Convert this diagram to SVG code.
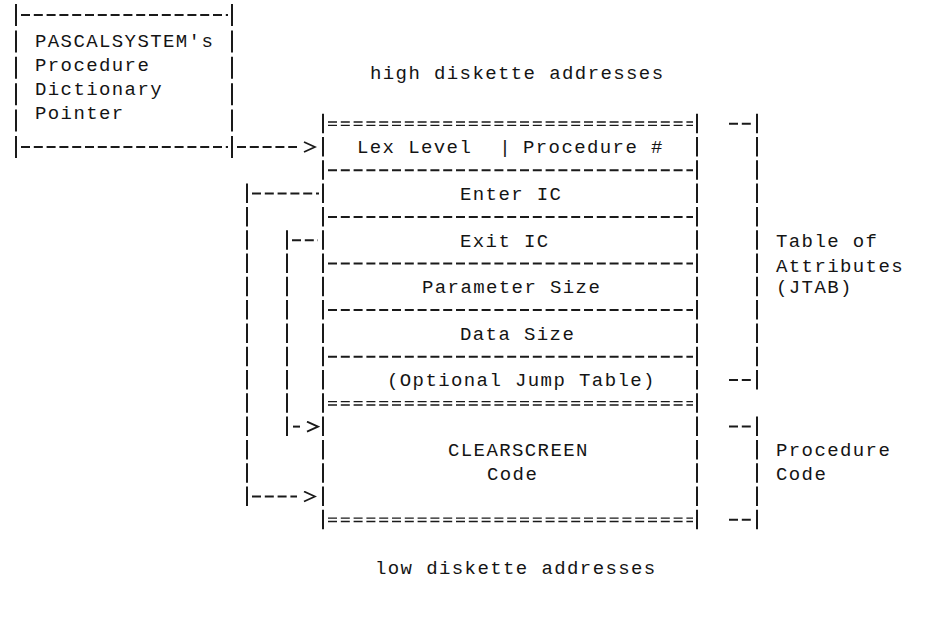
<svg xmlns="http://www.w3.org/2000/svg" width="928" height="617" viewBox="0 0 928 617">
  <defs>
    <marker id="chev" markerUnits="userSpaceOnUse" viewBox="0 0 20 12" markerWidth="20" markerHeight="12" refX="0" refY="6" orient="auto">
      <path d="M7,1 L18,6 L7,11" fill="none" stroke="#1a1a1a" stroke-width="1.8"/>
    </marker>
    <style>
      .t { font-family: "Liberation Mono", "DejaVu Sans Mono", monospace; font-size: 19px; letter-spacing: 1.4px; fill: #141414; }
      .bar { stroke: #1a1a1a; stroke-width: 2; fill: none; stroke-dasharray: 19.5 3.8; }
      .lbar { stroke: #1a1a1a; stroke-width: 2; fill: none; stroke-dasharray: 22 4.4; }
      .dash { stroke: #1a1a1a; stroke-width: 2; fill: none; stroke-dasharray: 9 3.8; }
      .dbl { stroke: #1a1a1a; stroke-width: 1.4; fill: none; stroke-dasharray: 9 3.8; }
      .arrow { marker-end: url(#chev); }
    </style>
  </defs>
  <rect width="928" height="617" fill="#ffffff"/>

  <g id="pointer-box">
    <line class="lbar" x1="16" y1="4" x2="16" y2="158"/>
    <line class="lbar" x1="232" y1="4" x2="232" y2="158"/>
    <line class="dash" x1="21" y1="15" x2="228" y2="15"/>
    <line class="dash" x1="21" y1="147" x2="228" y2="147"/>
    <text class="t" x="35" y="47.3">PASCALSYSTEM's</text>
    <text class="t" x="35" y="71.3">Procedure</text>
    <text class="t" x="35" y="95.3">Dictionary</text>
    <text class="t" x="35" y="119.3">Pointer</text>
  </g>

  <g id="high-label">
    <text class="t" x="370" y="79.3">high diskette addresses</text>
  </g>

  <g id="procedure-block">
    <line class="bar" x1="323" y1="113.7" x2="323" y2="529.8"/>
    <line class="bar" x1="697" y1="113.7" x2="697" y2="529.8"/>
    <line class="dbl" x1="328" y1="122" x2="693" y2="122"/>
    <line class="dbl" x1="328" y1="125.4" x2="693" y2="125.4"/>
    <line class="dash" x1="328" y1="170.3" x2="693" y2="170.3"/>
    <line class="dash" x1="328" y1="216.9" x2="693" y2="216.9"/>
    <line class="dash" x1="328" y1="263.5" x2="693" y2="263.5"/>
    <line class="dash" x1="328" y1="310.1" x2="693" y2="310.1"/>
    <line class="dash" x1="328" y1="356.7" x2="693" y2="356.7"/>
    <line class="dbl" x1="328" y1="401.6" x2="693" y2="401.6"/>
    <line class="dbl" x1="328" y1="405" x2="693" y2="405"/>
    <line class="dbl" x1="328" y1="518.1" x2="693" y2="518.1"/>
    <line class="dbl" x1="328" y1="521.5" x2="693" y2="521.5"/>
    <g id="row-lex">
      <text class="t" x="357" y="153.3">Lex Level</text>
      <text class="t" x="499.3" y="153.3">|</text>
      <text class="t" x="523" y="153.3">Procedure #</text>
    </g>
    <g id="row-enter"><text class="t" x="460" y="199.9">Enter IC</text></g>
    <g id="row-exit"><text class="t" x="460" y="246.5">Exit IC</text></g>
    <g id="row-param"><text class="t" x="422" y="293.1">Parameter Size</text></g>
    <g id="row-data"><text class="t" x="460" y="339.7">Data Size</text></g>
    <g id="row-jump"><text class="t" x="387" y="386.3">(Optional Jump Table)</text></g>
    <g id="code-block">
      <text class="t" x="448" y="456.2">CLEARSCREEN</text>
      <text class="t" x="487" y="479.5">Code</text>
    </g>
  </g>

  <g id="jtab-bracket">
    <line class="bar" x1="757" y1="113.7" x2="757" y2="390"/>
    <line class="dash" x1="729" y1="123.7" x2="752" y2="123.7"/>
    <line class="dash" x1="729" y1="380" x2="752" y2="380"/>
    <text class="t" x="776" y="246.5">Table of</text>
    <text class="t" x="776" y="272.3">Attributes</text>
    <text class="t" x="776" y="293.3">(JTAB)</text>
  </g>

  <g id="code-bracket">
    <line class="bar" x1="757" y1="416.6" x2="757" y2="529.8"/>
    <line class="dash" x1="729" y1="426.6" x2="752" y2="426.6"/>
    <line class="dash" x1="729" y1="519.8" x2="752" y2="519.8"/>
    <text class="t" x="776" y="456.2">Procedure</text>
    <text class="t" x="776" y="479.5">Code</text>
  </g>

  <g id="low-label">
    <text class="t" x="375" y="574.3">low diskette addresses</text>
  </g>

  <g id="connectors">
    <line class="dash arrow" x1="237" y1="147" x2="297" y2="147"/>
    <line class="dash" x1="252" y1="193.6" x2="319" y2="193.6"/>
    <line class="bar" x1="247" y1="183.6" x2="247" y2="506.5"/>
    <line class="dash arrow" x1="252" y1="496.5" x2="297" y2="496.5"/>
    <line class="dash" x1="292" y1="240.2" x2="318" y2="240.2"/>
    <line class="bar" x1="287" y1="230.2" x2="287" y2="436.6"/>
    <line class="dash arrow" x1="293" y1="426.6" x2="300" y2="426.6"/>
  </g>
</svg>
